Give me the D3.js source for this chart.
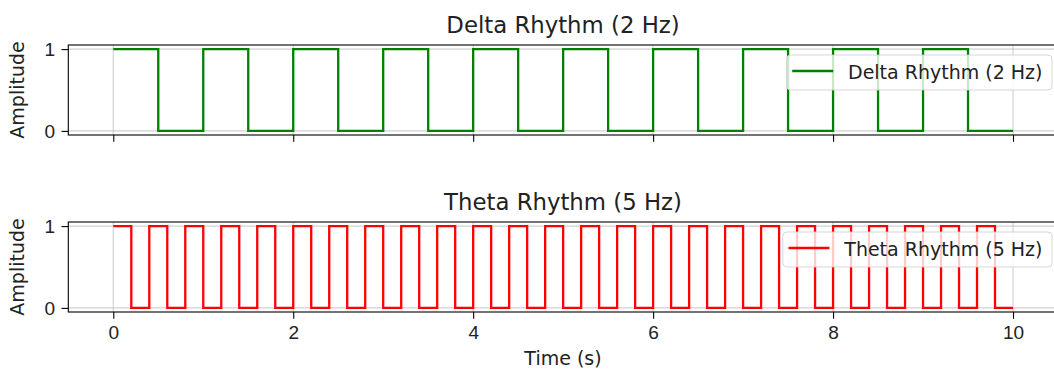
<!DOCTYPE html>
<html>
<head>
<meta charset="utf-8">
<script src="https://cdn.jsdelivr.net/npm/d3@7"></script>
<style>
  body { margin: 0; background: #fff; }
  svg { font-family: "DejaVu Sans", sans-serif; }
</style>
</head>
<body>
<div id="chart-container"></div>
<script>
// step breakpoints (s) and the level held from each breakpoint on
const deltaTimes = [0, 0.5, 1, 1.5, 2, 2.5, 3, 3.5, 4, 4.5, 5, 5.5, 6, 6.5, 7, 7.5, 8, 8.5, 9, 9.5, 10];
const deltaLevels = [1, 0, 1, 0, 1, 0, 1, 0, 1, 0, 1, 0, 1, 0, 1, 0, 1, 0, 1, 0, 0];

const thetaTimes = [0, 0.2, 0.4, 0.6, 0.8, 1, 1.2, 1.4, 1.6, 1.8, 2, 2.2, 2.4, 2.6, 2.8, 3, 3.2, 3.4, 3.6, 3.8,
    4, 4.2, 4.4, 4.6, 4.8, 5, 5.2, 5.4, 5.6, 5.8, 6, 6.2, 6.4, 6.6, 6.8, 7, 7.2, 7.4, 7.6, 7.8,
    8, 8.2, 8.4, 8.6, 8.8, 9, 9.2, 9.4, 9.6, 9.8, 10];
const thetaLevels = [1, 0, 1, 0, 1, 0, 1, 0, 1, 0, 1, 0, 1, 0, 1, 0, 1, 0, 1, 0,
    1, 0, 1, 0, 1, 0, 1, 0, 1, 0, 1, 0, 1, 0, 1, 0, 1, 0, 1, 0,
    1, 0, 1, 0, 1, 0, 1, 0, 1, 0, 0];

const xTicks = [0, 2, 4, 6, 8, 10];
const yTicks = [0, 1];

const panels = [
    { title: "Delta Rhythm (2 Hz)", times: deltaTimes, levels: deltaLevels, color: "#008000", top: 45, labels: false, legendTop: 55 },
    { title: "Theta Rhythm (5 Hz)", times: thetaTimes, levels: thetaLevels, color: "#ff0000", top: 222, labels: true, legendTop: 232 }
];

const W = 1054, H = 370;
const left = 68.3, right = 1058, panelH = 90;
const tickFont = "19px", titleFont = "22.8px";

const svg = d3.select("#chart-container").append("svg")
    .attr("width", W)
    .attr("height", H);

const x = d3.scaleLinear().domain([-0.5, 10.5]).range([left, right]);

panels.forEach(p => {
    const y = d3.scaleLinear().domain([-0.05, 1.05]).range([p.top + panelH, p.top]);
    const g = svg.append("g");

    // grid
    g.selectAll(".vgrid").data(xTicks).enter().append("line")
        .attr("x1", d => x(d)).attr("x2", d => x(d))
        .attr("y1", p.top).attr("y2", p.top + panelH)
        .attr("stroke", "#b0b0b0").attr("stroke-opacity", 0.6).attr("stroke-width", 1.1);
    g.selectAll(".hgrid").data(yTicks).enter().append("line")
        .attr("x1", left).attr("x2", right)
        .attr("y1", d => y(d)).attr("y2", d => y(d))
        .attr("stroke", "#b0b0b0").attr("stroke-opacity", 0.6).attr("stroke-width", 1.1);

    const pts = p.times.map((t, i) => [t, p.levels[i]]);
    const line = d3.line().x(d => x(d[0])).y(d => y(d[1])).curve(d3.curveStepAfter);
    g.append("path")
        .attr("d", line(pts))
        .attr("fill", "none")
        .attr("stroke", p.color)
        .attr("stroke-width", 2.3);

    // axes
    const xAxis = d3.axisBottom(x).tickValues(xTicks).tickSize(6.8).tickPadding(6.5)
        .tickFormat(p.labels ? d3.format("d") : "");
    const gx = g.append("g").attr("transform", `translate(0,${p.top + panelH})`).call(xAxis);
    const yAxis = d3.axisLeft(y).tickValues(yTicks).tickSize(6.8).tickPadding(6.5).tickFormat(d3.format("d"));
    const gy = g.append("g").attr("transform", `translate(${left},0)`).call(yAxis);
    [gx, gy].forEach(a => {
        a.select(".domain").remove();
        a.selectAll(".tick line").attr("stroke", "#000").attr("stroke-width", 1.1);
        a.selectAll(".tick text").attr("fill", "#222").style("font-size", tickFont);
    });

    // frame
    g.append("rect")
        .attr("x", left).attr("y", p.top)
        .attr("width", right - left).attr("height", panelH)
        .attr("fill", "none").attr("stroke", "#000").attr("stroke-width", 1.1);

    g.append("text")
        .attr("x", 563)
        .attr("y", p.top - 12)
        .attr("text-anchor", "middle")
        .style("font-size", titleFont)
        .attr("fill", "#222")
        .text(p.title);

    g.append("text")
        .attr("transform", `translate(24,${p.top + panelH / 2}) rotate(-90)`)
        .attr("text-anchor", "middle")
        .style("font-size", tickFont)
        .attr("fill", "#222")
        .text("Amplitude");

    // legend
    const lg = g.append("g");
    const box = lg.append("rect").attr("rx", 4).attr("ry", 4)
        .attr("fill", "#fff").attr("fill-opacity", 0.8)
        .attr("stroke", "#cccccc").attr("stroke-opacity", 0.8);
    const lt = lg.append("text")
        .attr("y", p.legendTop + 24)
        .style("font-size", tickFont)
        .attr("fill", "#222")
        .text(p.title);
    const tw = lt.node().getComputedTextLength();
    const boxW = tw + 61.5 + 9.5;
    const bx = 1052 - boxW;
    box.attr("x", bx).attr("y", p.legendTop).attr("width", boxW).attr("height", 35);
    lt.attr("x", bx + 61.5);
    lg.append("line")
        .attr("x1", bx + 5.7).attr("x2", bx + 46.7)
        .attr("y1", p.legendTop + 16).attr("y2", p.legendTop + 16)
        .attr("stroke", p.color).attr("stroke-width", 2.3);

    if (p.labels) {
        svg.append("text")
            .attr("x", 563)
            .attr("y", 365)
            .attr("text-anchor", "middle")
            .style("font-size", tickFont)
            .attr("fill", "#222")
            .text("Time (s)");
    }
});
</script>
</body>
</html>
